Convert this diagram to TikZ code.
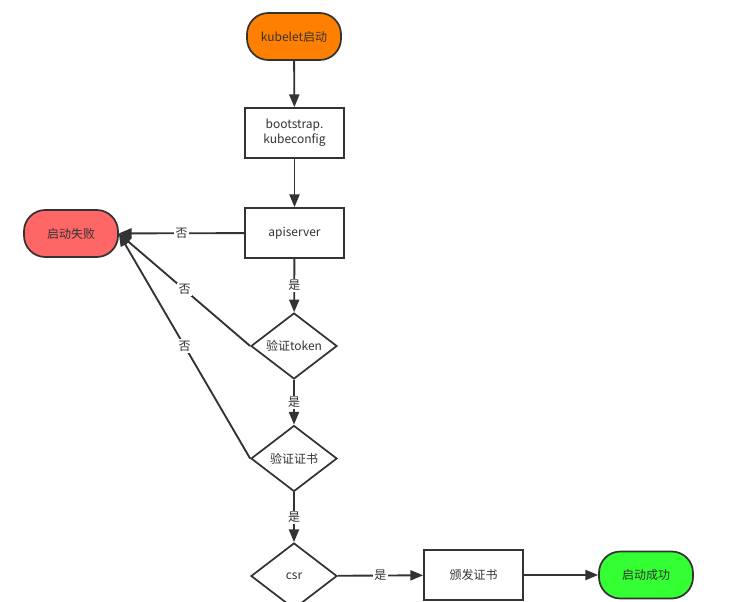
\documentclass[tikz,border=0pt]{standalone}
\usepackage{fontspec}
\setmainfont{Noto Sans CJK SC}
\usetikzlibrary{shapes.geometric,arrows.meta}

\begin{document}
\begin{tikzpicture}[x=0.75pt,y=0.75pt,yscale=-1,xscale=1,
  every node/.style={font=\fontsize{9}{11}\selectfont, text={rgb,255:red,51;green,51;blue,51}},
  startstop/.style={draw={rgb,255:red,51;green,51;blue,51}, line width=1.3pt, rounded corners=16pt, minimum width=70.5pt, minimum height=35.25pt},
  procbox/.style={draw={rgb,255:red,51;green,51;blue,51}, line width=1.3pt, fill=white, minimum width=74.25pt, minimum height=37.5pt, align=center},
  decide/.style={diamond, aspect=1.3, draw={rgb,255:red,51;green,51;blue,51}, line width=1.3pt, fill=white, minimum width=64.5pt, minimum height=49.5pt, inner sep=0pt},
  link/.style={draw={rgb,255:red,51;green,51;blue,51}, line width=1.4pt, -{Triangle[length=9.5pt,width=7.5pt]}},
  tag/.style={fill=white, inner sep=1pt}]
\useasboundingbox (0,0) rectangle (732,601);

% Terminal Nodes
\node [startstop, fill={rgb,255:red,255;green,128;blue,0}] (start) at (294,36.5) {kubelet启动};
\node [startstop, fill={rgb,255:red,255;green,102;blue,102}] (fail) at (71,233.5) {启动失败};
\node [startstop, fill={rgb,255:red,51;green,255;blue,51}] (ok) at (646,575) {启动成功};
% Process Nodes
\node [procbox] (boot) at (294.5,133) {bootstrap.\\kubeconfig};
\node [procbox] (api) at (294.5,233) {apiserver};
\node [procbox] (issue) at (473.5,575) {颁发证书};
% Decision Nodes
\node [decide] (token) at (294,346) {验证token};
\node [decide] (cert) at (294,458.5) {验证证书};
\node [decide] (csr) at (294,576) {csr};

% Connectors
\draw [link] (start) -- (boot);
\draw [link] (boot) -- (api);
\draw [link] (api) -- node [tag] {否} (fail);
\draw [link] (api) -- node [tag] {是} (token);
\draw [link] (token.west) -- node [tag] {否} (fail.east);
\draw [link] (token) -- node [tag] {是} (cert);
\draw [link] (cert.west) -- node [tag] {否} (fail.east);
\draw [link] (cert) -- node [tag] {是} (csr);
\draw [link] (csr) -- node [tag] {是} (issue);
\draw [link] (issue) -- (ok);

\end{tikzpicture}
\end{document}
